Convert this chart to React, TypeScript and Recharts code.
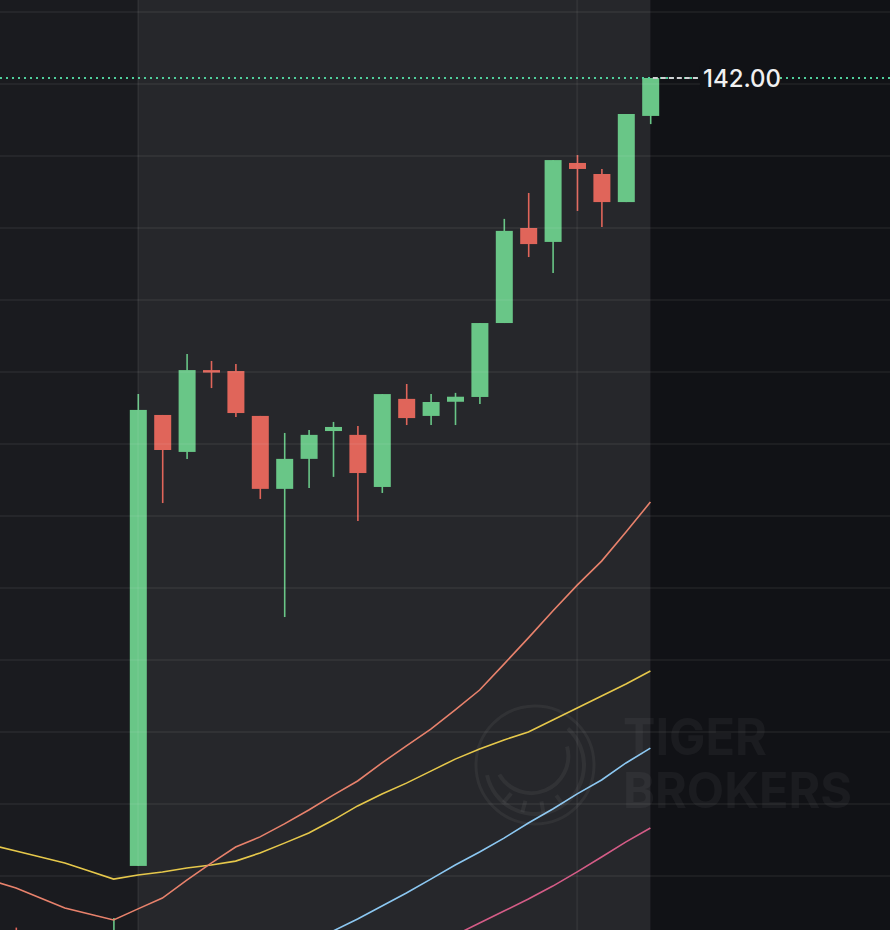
import React from 'react';
import {
  ComposedChart, Bar, Line, XAxis, YAxis, ReferenceArea, ReferenceLine,
} from 'recharts';

const W = 890;
const H = 930;

// candle index (0 = first candle of the highlighted range)
const IDX = [-6, -5, -4, -3, -2, -1, 0, 1, 2, 3, 4, 5, 6, 7, 8, 9, 10, 11, 12, 13, 14, 15, 16, 17, 18, 19, 20, 21];

const OPEN = [null, 106.0, null, null, null, 105.4, 109.17, 127.96, 126.42, 129.83, 129.79, 127.92, 124.88, 126.13, 127.29, 127.13, 124.96, 128.63, 127.92, 128.51, 128.71, 131.79, 135.75, 135.17, 138.46, 138.0, 136.83, 140.42];
const HIGH = [null, 106.6, null, null, null, 107.0, 128.83, 127.96, 130.5, 130.21, 130.08, 127.92, 127.21, 127.33, 127.67, 127.5, 128.83, 129.25, 128.83, 128.88, 131.79, 136.13, 137.21, 138.58, 138.79, 138.21, 140.5, 142.0];
const LOW = [null, 104.6, null, null, null, 105.0, 109.17, 124.29, 126.13, 129.08, 127.88, 124.46, 119.54, 124.92, 125.38, 123.54, 124.71, 127.54, 127.54, 127.54, 128.42, 131.79, 134.54, 133.88, 136.46, 135.79, 136.83, 140.08];
const CLOSE = [null, 105.0, null, null, null, 106.2, 128.17, 126.5, 129.83, 129.75, 128.04, 124.88, 126.13, 127.13, 127.46, 125.54, 128.83, 127.83, 128.5, 128.72, 131.79, 135.63, 135.08, 138.58, 138.21, 136.83, 140.5, 142.0];

const MA1 = [108.56, 108.25, 107.83, 107.42, 107.17, 106.92, 107.38, 107.83, 108.58, 109.29, 109.96, 110.38, 110.92, 111.5, 112.12, 112.71, 113.46, 114.17, 114.87, 115.67, 116.5, 117.58, 118.67, 119.79, 120.87, 121.87, 123.08, 124.33];
const MA2 = [110.04, 109.79, 109.54, 109.29, 108.96, 108.62, 108.79, 108.92, 109.08, 109.21, 109.37, 109.71, 110.12, 110.54, 111.08, 111.67, 112.17, 112.62, 113.12, 113.62, 114.04, 114.42, 114.75, 115.25, 115.75, 116.25, 116.75, 117.29];
const MA3 = [null, null, null, null, null, null, null, null, null, null, null, null, 105.42, 105.92, 106.46, 106.96, 107.5, 108.04, 108.62, 109.21, 109.75, 110.33, 110.96, 111.54, 112.17, 112.75, 113.46, 114.08];
const MA4 = [null, null, null, null, null, null, null, null, null, null, null, null, null, null, null, null, null, null, 105.79, 106.29, 106.79, 107.29, 107.79, 108.33, 108.92, 109.54, 110.17, 110.75];

const LAST_PRICE = 142.0;
const LAST_LABEL = '142.00';
const H_GRID = [144.75, 141.75, 138.75, 135.75, 132.75, 129.75, 126.75, 123.75, 120.75, 117.75, 114.75, 111.75, 108.75];
const V_GRID = [0, 18];
const X_DOMAIN: [number, number] = [-5.656, 30.82];
const Y_DOMAIN: [number, number] = [106.5, 145.25];
const BAND = [0, 21];

const UP = '#69c687';
const DOWN = '#e0655a';

const data = IDX.map((i, k) => ({
  i,
  open: OPEN[k],
  high: HIGH[k],
  low: LOW[k],
  close: CLOSE[k],
  range: HIGH[k] == null ? null : [LOW[k], HIGH[k]],
  ma1: MA1[k],
  ma2: MA2[k],
  ma3: MA3[k],
  ma4: MA4[k],
}));

function Candle(props: any) {
  const { x, y, width, height, payload } = props;
  if (payload == null || payload.high == null) return null;
  const { open, close, high, low } = payload;
  const span = high - low || 1;
  const color = close >= open ? UP : DOWN;
  const top = y + ((high - Math.max(open, close)) / span) * height;
  let bot = y + ((high - Math.min(open, close)) / span) * height;
  if (bot - top < 2.5) bot = top + 2.5;
  const cx = x + width / 2;
  return (
    <g>
      <line x1={cx} x2={cx} y1={y} y2={y + height} stroke={color} strokeWidth={1.6} />
      <rect x={x} y={top} width={width} height={bot - top} fill={color} />
    </g>
  );
}

function PriceLabel(props: any) {
  const vb = props.viewBox || {};
  const tx = vb.x + vb.width + 5;
  const ty = vb.y;
  return (
    <g>
      <rect x={tx - 3} y={ty - 12} width={80} height={24} fill="#111216" />
      <text x={tx} y={ty + 8.5} fill="#f0f0f1" fontSize={24} fontWeight={500} fontFamily="Inter, 'Noto Sans', sans-serif">
        {LAST_LABEL}
      </text>
    </g>
  );
}

function Watermark() {
  const cx = 535;
  const cy = 765;
  const pt = (r: number, deg: number) => {
    const a = (deg * Math.PI) / 180;
    return [cx + r * Math.cos(a), cy + r * Math.sin(a)];
  };
  const [o1x, o1y] = pt(49, -48);
  const [o2x, o2y] = pt(49, 168);
  const [i1x, i1y] = pt(37, -30);
  const [i2x, i2y] = pt(37, 165);
  const teeth = [55, 80, 105, 130];
  return (
    <svg width={W} height={H} style={{ position: 'absolute', left: 0, top: 0, pointerEvents: 'none' }}>
      <g fill="none" stroke="#ffffff" strokeOpacity={0.05} strokeWidth={3}>
        <circle cx={cx} cy={cy} r={59} />
        <path d={`M ${o1x} ${o1y} A 49 49 0 1 1 ${o2x} ${o2y}`} strokeWidth={4} />
        <path d={`M ${i1x} ${i1y} A 37 37 0 0 1 ${i2x} ${i2y}`} strokeWidth={4} />
        {teeth.map(d => {
          const [ax, ay] = pt(37, d);
          const [bx, by] = pt(49, d);
          return <line key={d} x1={ax} y1={ay} x2={bx} y2={by} strokeWidth={4} />;
        })}
      </g>
      <g fill="#ffffff" fillOpacity={0.045} fontFamily="Inter, Roboto, sans-serif" fontWeight={700}>
        <text x={623} y={755} fontSize={51} textLength={144} lengthAdjust="spacingAndGlyphs">TIGER</text>
        <text x={623} y={808} fontSize={49} textLength={229} lengthAdjust="spacingAndGlyphs">BROKERS</text>
      </g>
    </svg>
  );
}

export default function App() {
  return (
    <div style={{ position: 'fixed', left: 0, top: 0, width: W, height: H, background: '#111216', overflow: 'hidden' }}>
      <ComposedChart width={W} height={H} data={data} margin={{ top: 0, right: 0, bottom: 0, left: 0 }}>
        <XAxis dataKey="i" type="number" domain={X_DOMAIN} allowDataOverflow hide />
        <YAxis type="number" domain={Y_DOMAIN} allowDataOverflow hide />
        <ReferenceArea x1={X_DOMAIN[0]} x2={BAND[0]} fill="#1a1b1f" fillOpacity={1} stroke="none" />
        <ReferenceArea x1={BAND[0]} x2={BAND[1]} fill="#26272b" fillOpacity={1} stroke="none" />
        {H_GRID.map(v => (
          <ReferenceLine key={`h${v}`} y={v} stroke="#ffffff" strokeOpacity={0.05} strokeWidth={2} />
        ))}
        {V_GRID.map(v => (
          <ReferenceLine key={`v${v}`} x={v} stroke="#ffffff" strokeOpacity={0.05} strokeWidth={2} />
        ))}
        <ReferenceLine y={LAST_PRICE} stroke="#4fcf9c" strokeWidth={2} strokeDasharray="2 4" />
        <Line dataKey="ma4" stroke="#d55c87" strokeWidth={1.6} dot={false} isAnimationActive={false} />
        <Line dataKey="ma3" stroke="#8cc8f2" strokeWidth={1.6} dot={false} isAnimationActive={false} />
        <Line dataKey="ma2" stroke="#e6c84b" strokeWidth={1.6} dot={false} isAnimationActive={false} />
        <Line dataKey="ma1" stroke="#e8826c" strokeWidth={1.6} dot={false} isAnimationActive={false} />
        <Bar dataKey="range" barSize={17} shape={<Candle />} isAnimationActive={false} />
        <ReferenceLine
          segment={[{ x: 21.1, y: LAST_PRICE }, { x: 22.95, y: LAST_PRICE }]}
          stroke="#d0d1d4"
          strokeWidth={2}
          strokeDasharray="5 3"
          label={<PriceLabel />}
        />
      </ComposedChart>
      <Watermark />
    </div>
  );
}
